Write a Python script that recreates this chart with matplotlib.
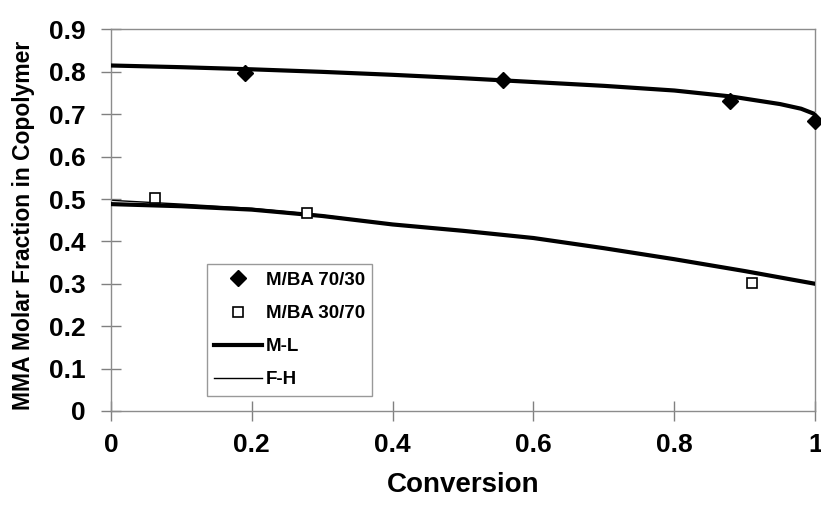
import matplotlib.pyplot as plt

plt.rcParams['font.family'] = ['Liberation Sans', 'DejaVu Sans']
plt.rcParams['font.weight'] = 'bold'

# experimental points
conv_7030 = [0.19, 0.557, 0.879, 1.0]
frac_7030 = [0.798, 0.781, 0.732, 0.684]
conv_3070 = [0.062, 0.279, 0.91]
frac_3070 = [0.502, 0.468, 0.303]

# model curves
ml_conv_hi = [0.0, 0.1, 0.2, 0.3, 0.4, 0.5, 0.6, 0.7, 0.8, 0.88, 0.95, 0.98, 1.0]
ml_frac_hi = [0.815, 0.811, 0.806, 0.800, 0.793, 0.785, 0.776, 0.767, 0.756, 0.742, 0.724, 0.713, 0.700]
ml_conv_lo = [0.0, 0.1, 0.2, 0.3, 0.4, 0.5, 0.6, 0.7, 0.8, 0.9, 1.0]
ml_frac_lo = [0.488, 0.483, 0.475, 0.460, 0.440, 0.425, 0.408, 0.384, 0.358, 0.330, 0.300]
fh_conv_lo = [0.0, 0.1, 0.2, 0.3, 0.4]
fh_frac_lo = [0.497, 0.488, 0.478, 0.462, 0.441]

fig, ax = plt.subplots(figsize=(8.21, 5.08), dpi=100)
fig.subplots_adjust(left=0.135, right=0.993, top=0.942, bottom=0.191)

ax.plot(fh_conv_lo, fh_frac_lo, color='black', linewidth=1.0, label='F-H', zorder=2)
ax.plot(ml_conv_hi, ml_frac_hi, color='black', linewidth=3.0, label='M-L', zorder=3)
ax.plot(ml_conv_lo, ml_frac_lo, color='black', linewidth=3.0, zorder=3)
ax.plot(conv_7030, frac_7030, linestyle='none', marker='D', markersize=8,
        color='black', label='M/BA 70/30', zorder=4, clip_on=False)
ax.plot(conv_3070, frac_3070, linestyle='none', marker='s', markersize=7,
        markerfacecolor='white', markeredgecolor='black', markeredgewidth=1.2,
        label='M/BA 30/70', zorder=4)

ax.set_xlim(0, 1)
ax.set_ylim(0, 0.9)
ax.set_xticks([0, 0.2, 0.4, 0.6, 0.8, 1.0])
ax.set_xticklabels(['0', '0.2', '0.4', '0.6', '0.8', '1'])
ax.set_yticks([i / 10 for i in range(10)])
ax.set_yticklabels(['0'] + ['%.1f' % (i / 10) for i in range(1, 10)])
ax.tick_params(direction='inout', length=14, width=1.0, color='#808080',
               labelsize=19, pad=11)
ax.tick_params(axis='x', pad=9)
for sp in ax.spines.values():
    sp.set_color('#8c8c8c')
    sp.set_linewidth(1.0)

ax.set_xlabel('Conversion', fontsize=20, fontweight='bold', labelpad=11)
ax.set_ylabel('MMA Molar Fraction in Copolymer', fontsize=16.5, fontweight='bold')
ax.yaxis.set_label_coords(-0.108, 0.487)

handles, labels = ax.get_legend_handles_labels()
order = [2, 3, 1, 0]
leg = ax.legend([handles[i] for i in order], [labels[i] for i in order],
                loc='lower left', bbox_to_anchor=(0.136, 0.04), fontsize=13.5,
                frameon=True, fancybox=False, edgecolor='#808080',
                handlelength=2.55, handletextpad=0.2, labelspacing=0.85,
                borderpad=0.4, borderaxespad=0)
leg.get_frame().set_linewidth(1.0)

plt.savefig('out.png', dpi=100)
